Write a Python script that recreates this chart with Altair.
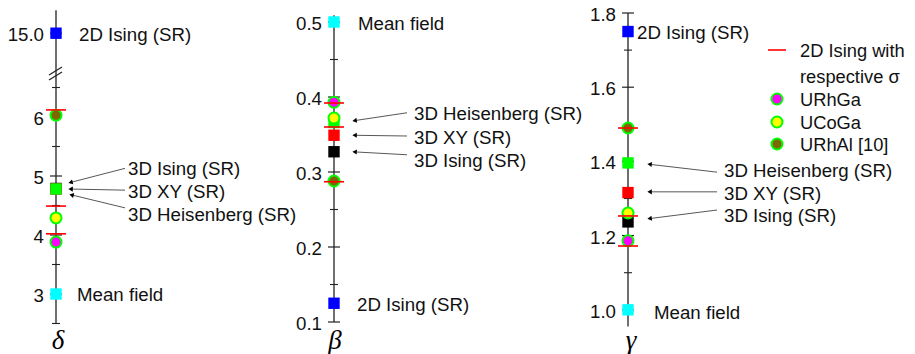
import math
import altair as alt
import pandas as pd

# ---------------- data ----------------
models = ["2D Ising (SR)", "Mean field", "3D Ising (SR)", "3D XY (SR)", "3D Heisenberg (SR)"]
model_colors = ["#0000FF", "#00FFFF", "#000000", "#FF0000", "#00FF00"]
delta_models = [15.0, 3.0, 4.789, 4.78, 4.78]
beta_models = [0.125, 0.5, 0.327, 0.349, 0.366]
gamma_models = [1.75, 1.0, 1.237, 1.316, 1.396]

materials = ["URhGa", "UCoGa", "URhAl [10]"]
material_colors = ["#FF00FF", "#FFFF00", "#806600"]
delta_exp = [3.88, 4.29, 6.03]
beta_exp = [0.393, 0.372, 0.288]
gamma_exp = [1.186, 1.261, 1.49]
delta_2d_sigma = [4.02, 4.49, 6.12]
beta_2d_sigma = [0.392, 0.360, 0.287]
gamma_2d_sigma = [1.172, 1.253, 1.49]

delta_ticks = [3, 4, 5, 6, 15]
delta_tick_labels = ["3", "4", "5", "6", "15.0"]
delta_minor = [2.5, 3.5, 4.5, 5.5, 6.5]
beta_ticks = [0.1, 0.2, 0.3, 0.4, 0.5]
beta_tick_labels = ["0.1", "0.2", "0.3", "0.4", "0.5"]
beta_minor = [0.15, 0.25, 0.35, 0.45]
gamma_ticks = [1.0, 1.2, 1.4, 1.6, 1.8]
gamma_tick_labels = ["1.0", "1.2", "1.4", "1.6", "1.8"]
gamma_minor = [1.1, 1.3, 1.5, 1.7]

legend_line_labels = ["2D Ising with", "respective σ"]

# ---------------- layout / style ----------------
W, H = 899, 332
PAD_TOP = 6
FONT = "Liberation Sans"
FS = 18.7
AXC = "#222222"
TXT_DY = 1.5


def delta_pos(v):
    # broken axis: values above the break are drawn just above it
    return v if v < 6.75 else 7.42 + (v - 15.0) * 0.1


def ident(v):
    return v


panels = [
    dict(base=48, domain=[2.1186, 7.7458], extent=[2.5, 7.81], pos=delta_pos,
         symbol="δ", sym_dx=2,
         models=delta_models, exp=delta_exp, sigma=delta_2d_sigma,
         ticks=delta_ticks, labels=delta_tick_labels, minor=delta_minor,
         notes=[("2D Ising (SR)", 15.0, 23, None),
                ("Mean field", 3.0, 21, None),
                ("3D Ising (SR)", 5.15, 72, (69, 5.13, 12, 4.88)),
                ("3D XY (SR)", 4.75, 72, (69, 4.76, 12, 4.78)),
                ("3D Heisenberg (SR)", 4.37, 72, (69, 4.46, 13, 4.69))],
         breaks=[6.78, 6.695]),
    dict(base=326, domain=[0.068, 0.51067], extent=[0.1, 0.509], pos=ident,
         symbol="β", sym_dx=1,
         models=beta_models, exp=beta_exp, sigma=beta_2d_sigma,
         ticks=beta_ticks, labels=beta_tick_labels, minor=beta_minor,
         notes=[("Mean field", 0.5, 24, None),
                ("2D Ising (SR)", 0.125, 23, None),
                ("3D Heisenberg (SR)", 0.379, 80, (73, 0.379, 18, 0.368)),
                ("3D XY (SR)", 0.348, 80, (73, 0.348, 18, 0.349)),
                ("3D Ising (SR)", 0.317, 80, (73, 0.323, 18, 0.327))],
         breaks=[]),
    dict(base=620, domain=[0.9025, 1.7973], extent=[0.955, 1.8], pos=ident,
         symbol="γ", sym_dx=3,
         models=gamma_models, exp=gamma_exp, sigma=gamma_2d_sigma,
         ticks=gamma_ticks, labels=gamma_tick_labels, minor=gamma_minor,
         notes=[("2D Ising (SR)", 1.75, 9, None),
                ("Mean field", 0.995, 26, None),
                ("3D Heisenberg (SR)", 1.377, 96, (89, 1.371, 19, 1.393)),
                ("3D XY (SR)", 1.315, 96, (89, 1.318, 19, 1.318)),
                ("3D Ising (SR)", 1.256, 96, (89, 1.269, 19, 1.245))],
         breaks=[]),
]

xsc = alt.Scale(domain=[0, W], nice=False, zero=False)


def build_panel(p):
    ys = alt.Scale(domain=p["domain"], nice=False, zero=False)
    pos = p["pos"]
    base = p["base"]
    ppu = H / (p["domain"][1] - p["domain"][0])

    def X(f):
        return alt.X(f, type="quantitative", scale=xsc, axis=None)

    def Y(f):
        return alt.Y(f, type="quantitative", scale=ys, axis=None)

    layers = []
    # axis line
    ax = pd.DataFrame({"x": [base], "y": [p["extent"][0]], "y2": [p["extent"][1]]})
    layers.append(alt.Chart(ax).mark_rule(color=AXC, strokeWidth=1.3)
                  .encode(x=X("x"), y=Y("y"), y2="y2:Q"))
    # major ticks (crossing the axis)
    mj = pd.DataFrame({"x": [base - 6] * len(p["ticks"]), "x2": [base + 6] * len(p["ticks"]),
                       "y": [pos(t) for t in p["ticks"]], "lab": p["labels"]})
    layers.append(alt.Chart(mj).mark_rule(color=AXC, strokeWidth=1.2)
                  .encode(x=X("x"), x2="x2:Q", y=Y("y")))
    mn = pd.DataFrame({"x": [base - 4] * len(p["minor"]), "x2": [base + 4] * len(p["minor"]),
                       "y": [pos(t) for t in p["minor"]]})
    layers.append(alt.Chart(mn).mark_rule(color=AXC, strokeWidth=1.1)
                  .encode(x=X("x"), x2="x2:Q", y=Y("y")))
    tl = mj.assign(xl=base - 12)
    layers.append(alt.Chart(tl).mark_text(align="right", baseline="middle", font=FONT,
                                          fontSize=FS, color="#111111", dy=TXT_DY + 0.5)
                  .encode(x=X("xl"), y=Y("y"), text="lab:N"))
    # axis break marks
    if p["breaks"]:
        d = 4.0 / ppu
        br = pd.DataFrame({"x": [base - 7] * len(p["breaks"]), "x2": [base + 6] * len(p["breaks"]),
                           "y": [b - d for b in p["breaks"]], "y2": [b + d for b in p["breaks"]]})
        layers.append(alt.Chart(br).mark_rule(color=AXC, strokeWidth=1.2)
                      .encode(x=X("x"), x2="x2:Q", y=Y("y"), y2="y2:Q"))
    # model squares
    sq = pd.DataFrame({"model": models, "x": base, "y": [pos(v) for v in p["models"]],
                       "c": model_colors})
    layers.append(alt.Chart(sq).mark_point(shape="square", filled=True, size=130, opacity=1,
                                           strokeWidth=0)
                  .encode(x=X("x"), y=Y("y"), fill=alt.Fill("c:N", scale=None)))
    # material circles
    ci = pd.DataFrame({"mat": materials, "x": base, "y": [pos(v) for v in p["exp"]],
                       "c": material_colors})
    layers.append(alt.Chart(ci).mark_point(shape="circle", filled=True, size=121, opacity=1,
                                           stroke="#00FF00", strokeWidth=2)
                  .encode(x=X("x"), y=Y("y"), fill=alt.Fill("c:N", scale=None)))
    # 2D Ising with respective sigma
    rs = pd.DataFrame({"x": base - 10, "x2": base + 10, "y": [pos(v) for v in p["sigma"]]})
    layers.append(alt.Chart(rs).mark_rule(color="#FF0000", strokeWidth=1.6)
                  .encode(x=X("x"), x2="x2:Q", y=Y("y")))
    # annotations
    nt = pd.DataFrame({"t": [n[0] for n in p["notes"]],
                       "x": [base + n[2] for n in p["notes"]],
                       "y": [pos(n[1]) for n in p["notes"]]})
    layers.append(alt.Chart(nt).mark_text(align="left", baseline="middle", font=FONT,
                                          fontSize=FS, color="#111111", dy=TXT_DY)
                  .encode(x=X("x"), y=Y("y"), text="t:N"))
    rows = []
    for n in p["notes"]:
        if n[3] is None:
            continue
        so, sy, to, ty = n[3]
        dx = to - so
        dy = -(pos(ty) - pos(sy)) * ppu
        L = math.hypot(dx, dy)
        ang = math.degrees(math.atan2(-dy, -dx)) % 360
        cx = base + to - 2.6 * dx / L
        cy = pos(ty) + (2.6 * dy / L) / ppu
        rows.append({"x": base + so, "y": pos(sy), "x2": cx, "y2": cy, "a": ang})
    ar = pd.DataFrame(rows)
    layers.append(alt.Chart(ar).mark_rule(color="#444444", strokeWidth=0.9)
                  .encode(x=X("x"), x2="x2:Q", y=Y("y"), y2="y2:Q"))
    layers.append(alt.Chart(ar).mark_point(shape="triangle-left", filled=True, size=26,
                                           opacity=1, color="#000000")
                  .encode(x=X("x2"), y=Y("y2"), angle=alt.Angle("a:Q", scale=None)))
    # variable symbol under the axis
    sy_df = pd.DataFrame({"x": [base], "s": [p["symbol"]]})
    layers.append(alt.Chart(sy_df).mark_text(align="center", baseline="alphabetic",
                                             font="Liberation Serif", fontStyle="italic",
                                             fontSize=27, dx=p["sym_dx"], color="#000000")
                  .encode(x=X("x"), y=alt.value(341 - PAD_TOP), text="s:N"))
    return alt.layer(*layers)


# legend (top right of the gamma panel), pixel rows inside the plot area
LEG_X_SYM, LEG_X_TXT = 769, 792
leg_rows = [42, 68, 91, 114, 136]
leg_rows = [r - PAD_TOP for r in leg_rows]
one = pd.DataFrame({"k": [0]})
leg_rule = alt.Chart(one).mark_rule(color="#FF0000", strokeWidth=1.6).encode(
    x=alt.value(760), x2=alt.value(778), y=alt.value(leg_rows[0]))
leg_txt_df = pd.DataFrame({"t": legend_line_labels + materials, "py": leg_rows})
leg_txt = alt.Chart(leg_txt_df).mark_text(align="left", baseline="middle", font=FONT,
                                          fontSize=18.3, color="#111111", dy=TXT_DY).encode(
    x=alt.value(LEG_X_TXT), y=alt.Y("py:Q", scale=None, axis=None), text="t:N")
leg_sym_df = pd.DataFrame({"m": materials, "c": material_colors, "py": leg_rows[2:]})
leg_sym = alt.Chart(leg_sym_df).mark_point(shape="circle", filled=True, size=121, opacity=1,
                                           stroke="#00FF00", strokeWidth=2).encode(
    x=alt.value(LEG_X_SYM), y=alt.Y("py:Q", scale=None, axis=None),
    fill=alt.Fill("c:N", scale=None))

chart = alt.layer(*[build_panel(p) for p in panels], leg_rule, leg_txt, leg_sym).resolve_scale(
    y="independent"
).properties(
    width=W, height=H,
    padding={"left": 0, "top": PAD_TOP, "right": 0, "bottom": 12},
    autosize=alt.AutoSizeParams(type="none")
).configure_view(stroke=None)

chart.save("out.html", embed_options={"renderer": "svg", "actions": False})
